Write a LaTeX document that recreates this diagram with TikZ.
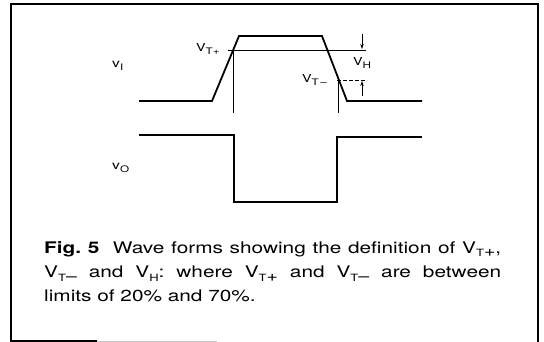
\documentclass[tikz,border=0pt]{standalone}
\usepackage{fontspec}
\setmainfont{TeX Gyre Heros}[FakeStretch=1.3]
\usetikzlibrary{arrows.meta}
\frenchspacing
\newcommand\capsub[2]{\raisebox{-3.5pt}{\fontsize{10}{10}\selectfont #1\fontsize{15}{15}\selectfont #2}}
\newcommand\lblsub[1]{\raisebox{-2.5pt}{\fontsize{9}{9}\selectfont #1}}
\begin{document}
\begin{tikzpicture}[x=1pt,y=-1pt,
  wave/.style={line width=1.8pt, line join=miter},
  thin/.style={line width=0.7pt},
  frame/.style={line width=2.2pt},
  lbl/.style={inner sep=0pt, font=\fontsize{11}{11}\selectfont},
  sig/.style={inner sep=0pt, font=\fontsize{12}{12}\selectfont},
  capline/.style={inner sep=0pt, anchor=base west, font=\fontsize{16}{16}\selectfont},
  harrow/.style={thin, -{Stealth[length=5pt,width=3.5pt]}}]
\useasboundingbox (0,0) rectangle (544,342);
% frame
\draw[frame] (538,342) -- (538,4) -- (11,4) -- (11,341) -- (97,341);
\draw[line width=0.8pt, gray!45] (97,341) -- (217,341);
% input waveform
\draw[wave] (139,101) -- (212,101) -- (239,36) -- (322,36) -- (347,101) -- (422,101);
% output waveform
\draw[wave] (139,135) -- (234,135) -- (234,202) -- (337,202) -- (337,137) -- (422,137);
% threshold lines
\draw[thin] (228,50.5) -- (366,50.5);
\draw[thin, dash pattern=on 4pt off 2pt] (337,80) -- (367,80);
\draw[thin] (233,50.5) -- (233,113);
\draw[thin] (338,80) -- (338,113);
% hysteresis arrows
\coordinate (a1) at (362,34);
\coordinate (a1t) at (362,49);
\coordinate (a2) at (362,96);
\coordinate (a2t) at (362,81);
\draw[harrow] (a1) -- (a1t);
\draw[harrow] (a2) -- (a2t);
% labels
\node[sig, anchor=base west] (vi) at (112,68) {v\lblsub{I}};
\node[sig, anchor=base west] (vo) at (112,170) {v\lblsub{O}};
\node[lbl, anchor=base west] (vtp) at (196,52) {V\lblsub{T+}};
\node[lbl, anchor=base west] (vtm) at (302,83) {V\lblsub{T\,–}};
\node[lbl, anchor=base west] (vh) at (353,66) {V\lblsub{H}};
% caption
\node[capline] (cap1) at (44,253.3) {\makebox[457pt][s]{\textbf{Fig. 5}\ \ Wave forms showing the definition of V\capsub{T}{+},}};
\node[capline] (cap2) at (44,277.5) {\makebox[457pt][s]{V\capsub{T}{–} and V\capsub{H}{}: where V\capsub{T}{+} and V\capsub{T}{–} are between}};
\node[capline] (cap3) at (44,301.7) {limits of 20\% and 70\%.};
\end{tikzpicture}
\end{document}
